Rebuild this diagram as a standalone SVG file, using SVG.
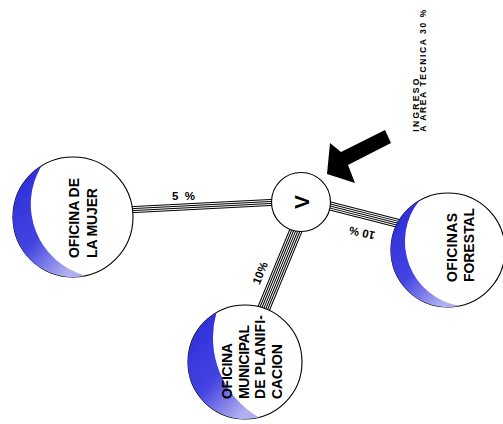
<svg xmlns="http://www.w3.org/2000/svg" width="503" height="424" viewBox="0 0 503 424">
<defs>
<linearGradient id="shade" x1="0" y1="0" x2="0.7" y2="1">
<stop offset="0" stop-color="#2a2ad8"/>
<stop offset="0.6" stop-color="#4444e2"/>
<stop offset="1" stop-color="#b0b0f0"/>
</linearGradient>
</defs>
<style>
.disk{fill:#ffffff;stroke:#000000;stroke-width:1.1}
.moon{fill:url(#shade);stroke:none}
.lbl{font-family:"Liberation Sans",Arial,sans-serif;font-size:14px;font-weight:bold;fill:#000000}
.pct{font-family:"Liberation Sans",Arial,sans-serif;font-size:11.5px;font-weight:bold;fill:#000000}
.note{font-family:"Liberation Sans",Arial,sans-serif;font-size:8.5px;font-weight:bold;fill:#000000}
.k{fill:none;stroke:#000000}
.w{fill:none;stroke:#ffffff}
</style>
<rect width="503" height="424" fill="#ffffff"/>
<g id="connectors">
<g id="c-mujer">
<path class="k" stroke-width="7" d="M125,210 L280,202"/>
<path class="w" stroke-width="5" d="M125,210 L280,202"/>
<path class="k" stroke-width="3" d="M125,210 L280,202"/>
<path class="w" stroke-width="1" d="M125,210 L280,202"/>
</g>
<g id="c-forestal">
<path class="k" stroke-width="9" d="M315,202.2 L410,226.3"/>
<path class="w" stroke-width="7" d="M315,202.2 L410,226.3"/>
<path class="k" stroke-width="5" d="M315,202.2 L410,226.3"/>
<path class="w" stroke-width="3" d="M315,202.2 L410,226.3"/>
<path class="k" stroke-width="1" d="M315,202.2 L410,226.3"/>
</g>
<g id="c-planif">
<path class="k" stroke-width="13" d="M301,218 L262.3,312"/>
<path class="w" stroke-width="11" d="M301,218 L262.3,312"/>
<path class="k" stroke-width="9" d="M301,218 L262.3,312"/>
<path class="w" stroke-width="7" d="M301,218 L262.3,312"/>
<path class="k" stroke-width="5" d="M301,218 L262.3,312"/>
<path class="w" stroke-width="3" d="M301,218 L262.3,312"/>
<path class="k" stroke-width="1" d="M301,218 L262.3,312"/>
</g>
<text class="pct" x="172" y="200" textLength="23">5 %</text>
<text class="pct" transform="translate(362,233) rotate(193)" x="0" y="4" text-anchor="middle">10 %</text>
<text class="pct" transform="translate(260,273) rotate(-68)" x="0" y="4" text-anchor="middle">10%</text>
</g>
<g id="node-v">
<circle class="disk" cx="301" cy="202" r="29.5"/>
<text transform="translate(309,202) rotate(-90)" text-anchor="middle" style="font-family:'Liberation Sans',Arial,sans-serif;font-size:21px;font-weight:bold">V</text>
</g>
<g id="node-mujer">
<circle class="disk" cx="73" cy="217" r="60"/>
<path class="moon" d="M41.6,165.8 A60,60 0 0 0 85.5,275.7 A74,74 0 0 1 41.6,165.8 Z"/>
<text class="lbl" transform="translate(79,258) rotate(-90)"><tspan x="0" y="0" textLength="80">OFICINA DE</tspan><tspan x="0" y="17.7" textLength="70">LA MUJER</tspan></text>
</g>
<g id="node-forestal">
<circle class="disk" cx="448" cy="250" r="57"/>
<path class="moon" d="M419.5,200.6 A57,57 0 0 0 459.9,305.8 A65,65 0 0 1 419.5,200.6 Z"/>
<text class="lbl" transform="translate(456.5,282) rotate(-90)"><tspan x="0" y="0" textLength="69">OFICINAS</tspan><tspan x="0" y="17.5" textLength="74">FORESTAL</tspan></text>
</g>
<g id="node-planif">
<circle class="disk" cx="245" cy="362" r="57"/>
<path class="moon" d="M216.5,312.6 A57,57 0 0 0 258.8,417.3 A92,92 0 0 1 216.5,312.6 Z"/>
<text class="lbl" transform="translate(232,399) rotate(-90)"><tspan x="0" y="0" textLength="56">OFICINA</tspan><tspan x="0" y="16.7" textLength="74">MUNICIPAL</tspan><tspan x="0" y="33.4" textLength="84">DE PLANIFI-</tspan><tspan x="0" y="50.1" textLength="55">CACION</tspan></text>
</g>
<g id="ingreso">
<polygon fill="#000000" points="385,130 391,143 348,165 355,183 327,174 330,143 341,152"/>
<text class="note" transform="translate(418.5,131.7) rotate(-90)"><tspan x="0" y="0" textLength="53">INGRESO</tspan><tspan x="0" y="7.5" textLength="122">A AREA TECNICA 30 %</tspan></text>
</g>
</svg>
